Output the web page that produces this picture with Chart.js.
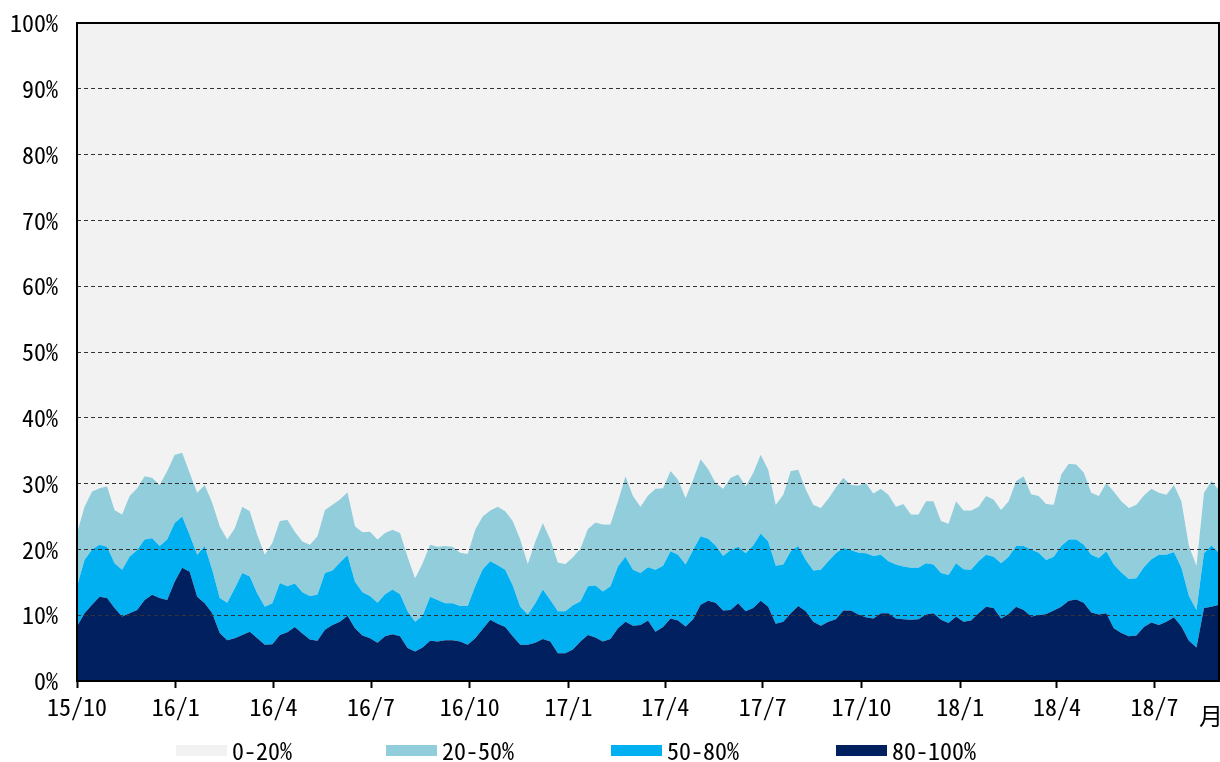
<!DOCTYPE html>
<html>
<head>
<meta charset="utf-8">
<script src="https://cdn.jsdelivr.net/npm/chart.js@4.4.1/dist/chart.umd.min.js"></script>
<style>
  html, body { margin: 0; padding: 0; background: #ffffff; }
  #wrap { width: 1220px; height: 762px; position: relative; }
</style>
</head>
<body>
<div id="wrap"><canvas id="c" width="1220" height="762"></canvas></div>
<script>
const FONT = '"Noto Sans Mono CJK JP", "Liberation Sans Narrow", "DejaVu Sans Condensed", sans-serif';
const FONT_SIZE = 24;

// Legend names and colours, listed top band first
const seriesNames = ['0-20%', '20-50%', '50-80%', '80-100%'];
const seriesColors = ['#f2f2f2', '#92cddc', '#00b0f0', '#002060'];

// Quarter ticks, as days counted from 2015/10/1
const tickDays = [0, 92, 183, 274, 366, 458, 548, 639, 731, 823, 913, 1004];
const tickLabels = ['15/10', '16/1', '16/4', '16/7', '16/10', '17/1', '17/4', '17/7', '17/10', '18/1', '18/4', '18/7'];
const axisUnit = '月';

// Weekly shares (%) of each band
const share80_100 = [
  8.3, 10.3, 11.6, 12.8, 12.6, 11.1, 9.8, 10.3, 10.8, 12.3,
  13.1, 12.6, 12.3, 15.1, 17.2, 16.6, 12.8, 11.8, 10.3, 7.3,
  6.2, 6.5, 7.0, 7.5, 6.5, 5.5, 5.6, 7.0, 7.4, 8.2,
  7.2, 6.3, 6.1, 7.8, 8.5, 9.0, 9.9, 8.0, 6.9, 6.5,
  5.8, 6.8, 7.1, 6.8, 5.0, 4.5, 5.1, 6.1, 6.0, 6.2,
  6.2, 6.0, 5.5, 6.5, 7.9, 9.3, 8.7, 8.2, 6.8, 5.5,
  5.5, 5.8, 6.4, 6.0, 4.2, 4.2, 4.8, 6.0, 7.0, 6.6,
  6.0, 6.4, 8.0, 9.0, 8.4, 8.5, 9.2, 7.5, 8.2, 9.5,
  9.2, 8.3, 9.4, 11.6, 12.2, 11.9, 10.7, 10.8, 11.8, 10.6,
  11.1, 12.2, 11.3, 8.7, 9.0, 10.3, 11.4, 10.6, 9.0, 8.4,
  9.0, 9.4, 10.7, 10.7, 10.1, 9.7, 9.5, 10.3, 10.3, 9.5,
  9.4, 9.3, 9.4, 10.1, 10.3, 9.3, 8.8, 9.8, 9.0, 9.2,
  10.3, 11.3, 11.1, 9.5, 10.2, 11.3, 10.8, 9.8, 10.0, 10.2,
  10.7, 11.3, 12.2, 12.4, 11.9, 10.4, 10.1, 10.3, 8.0, 7.3,
  6.8, 6.9, 8.2, 8.9, 8.5, 9.0, 9.7, 8.3, 6.1, 5.1,
  11.1, 11.3, 11.6
];
const share50_80 = [
  6.1, 8.1, 8.4, 7.9, 7.8, 6.8, 7.1, 8.6, 9.1, 9.2,
  8.6, 7.9, 9.2, 8.9, 7.8, 5.6, 6.4, 8.7, 6.6, 5.3,
  5.7, 7.6, 9.4, 8.4, 6.8, 5.8, 6.2, 7.9, 7.0, 6.6,
  6.3, 6.6, 7.0, 8.6, 8.3, 9.0, 9.2, 7.1, 6.6, 6.4,
  6.1, 6.4, 6.8, 6.4, 5.6, 4.5, 4.8, 6.7, 6.3, 5.6,
  5.6, 5.4, 5.9, 7.9, 9.1, 8.9, 8.9, 8.7, 7.7, 5.8,
  4.6, 6.0, 7.5, 6.3, 6.4, 6.4, 6.7, 6.1, 7.4, 7.9,
  7.6, 8.0, 9.4, 9.9, 8.5, 7.9, 8.1, 9.4, 9.3, 10.2,
  10.0, 9.4, 10.5, 10.4, 9.4, 8.7, 8.3, 9.1, 8.6, 8.8,
  9.5, 10.2, 9.9, 8.8, 8.7, 9.4, 9.1, 7.8, 7.8, 8.5,
  9.2, 10.0, 9.5, 9.2, 9.4, 9.7, 9.5, 8.9, 7.9, 8.2,
  8.0, 7.9, 7.8, 7.8, 7.4, 7.1, 7.3, 8.1, 8.0, 7.7,
  7.9, 7.9, 7.8, 8.4, 8.7, 9.2, 9.7, 10.2, 9.5, 8.2,
  8.2, 9.2, 9.3, 9.1, 8.8, 8.8, 8.6, 9.4, 9.7, 9.2,
  8.7, 8.7, 9.1, 9.6, 10.7, 10.2, 9.9, 8.9, 6.8, 5.7,
  8.3, 9.3, 7.9
];
const share20_50 = [
  8.1, 8.1, 8.8, 8.6, 9.2, 8.1, 8.4, 9.2, 9.4, 9.6,
  9.2, 9.3, 10.4, 10.4, 9.7, 9.4, 9.4, 9.3, 10.2, 10.9,
  9.6, 9.1, 10.1, 9.9, 8.9, 7.9, 9.2, 9.4, 10.1, 7.9,
  7.7, 7.8, 8.9, 9.6, 10.0, 9.6, 9.6, 8.4, 9.1, 9.8,
  9.6, 9.3, 9.1, 9.3, 8.3, 6.6, 8.0, 7.9, 8.1, 8.7,
  8.6, 8.1, 7.9, 8.6, 8.0, 7.7, 8.9, 8.9, 9.8, 10.2,
  7.7, 9.4, 10.1, 9.2, 7.4, 7.2, 7.3, 8.0, 8.7, 9.6,
  10.2, 9.4, 9.9, 12.2, 11.2, 10.1, 10.9, 12.3, 11.8, 12.2,
  11.4, 10.1, 10.7, 11.7, 10.6, 9.5, 10.2, 11.0, 11.0, 10.2,
  11.0, 12.0, 10.9, 9.3, 10.6, 12.2, 11.6, 10.7, 10.0, 9.4,
  9.5, 10.0, 10.7, 9.9, 10.2, 10.7, 9.5, 10.0, 10.1, 8.8,
  9.5, 8.1, 8.1, 9.4, 9.6, 7.9, 7.8, 9.4, 8.9, 9.0,
  8.3, 8.9, 8.7, 8.1, 8.4, 9.9, 10.6, 8.4, 8.6, 8.5,
  7.9, 10.9, 11.5, 11.4, 11.0, 9.4, 9.4, 10.4, 11.1, 10.8,
  10.8, 11.2, 10.9, 10.7, 9.4, 9.1, 10.2, 10.1, 7.6, 6.7,
  9.2, 9.8, 9.5
];
const share0_20 = [
  77.5, 73.5, 71.2, 70.7, 70.4, 74.0, 74.7, 71.9, 70.7, 68.9,
  69.1, 70.2, 68.1, 65.6, 65.3, 68.4, 71.4, 70.2, 72.9, 76.5,
  78.5, 76.8, 73.5, 74.2, 77.8, 80.8, 79.0, 75.7, 75.5, 77.3,
  78.8, 79.3, 78.0, 74.0, 73.2, 72.4, 71.3, 76.5, 77.4, 77.3,
  78.5, 77.5, 77.0, 77.5, 81.1, 84.4, 82.1, 79.3, 79.6, 79.5,
  79.6, 80.5, 80.7, 77.0, 75.0, 74.1, 73.5, 74.2, 75.7, 78.5,
  82.2, 78.8, 76.0, 78.5, 82.0, 82.2, 81.2, 79.9, 76.9, 75.9,
  76.2, 76.2, 72.7, 68.9, 71.9, 73.5, 71.8, 70.8, 70.7, 68.1,
  69.4, 72.2, 69.4, 66.3, 67.8, 69.9, 70.8, 69.1, 68.6, 70.4,
  68.4, 65.6, 67.9, 73.2, 71.7, 68.1, 67.9, 70.9, 73.2, 73.7,
  72.3, 70.6, 69.1, 70.2, 70.3, 69.9, 71.5, 70.8, 71.7, 73.5,
  73.1, 74.7, 74.7, 72.7, 72.7, 75.7, 76.1, 72.7, 74.1, 74.1,
  73.5, 71.9, 72.4, 74.0, 72.7, 69.6, 68.9, 71.6, 71.9, 73.1,
  73.2, 68.6, 67.0, 67.1, 68.3, 71.4, 71.9, 69.9, 71.2, 72.7,
  73.7, 73.2, 71.8, 70.8, 71.4, 71.7, 70.2, 72.7, 79.5, 82.5,
  71.4, 69.6, 71.0
];

// One observation per week, starting 2015/10/1
const obsDays = share80_100.map((_, i) => i * 7);
const toPoints = arr => arr.map((v, i) => ({ x: obsDays[i], y: v }));

// Stacked bottom-up: 80-100%, 50-80%, 20-50%, 0-20%
const bands = [
  { name: seriesNames[3], color: seriesColors[3], values: share80_100, fill: 'origin' },
  { name: seriesNames[2], color: seriesColors[2], values: share50_80, fill: '-1' },
  { name: seriesNames[1], color: seriesColors[1], values: share20_50, fill: '-1' },
  { name: seriesNames[0], color: seriesColors[0], values: share0_20, fill: '-1' }
];

const frameAndLegend = {
  id: 'frameAndLegend',
  afterDraw(chart) {
    const { ctx, chartArea: a } = chart;
    ctx.save();
    // plot frame
    ctx.strokeStyle = '#000';
    ctx.lineWidth = 2;
    ctx.strokeRect(a.left, a.top, a.right - a.left, a.bottom - a.top);

    // unit label at the right end of the time axis
    ctx.fillStyle = '#000';
    ctx.font = FONT_SIZE + 'px ' + FONT;
    ctx.textAlign = 'center';
    ctx.textBaseline = 'middle';
    ctx.fillText(axisUnit, 1211, 716);

    // legend row
    const boxLeft = [176, 386, 611, 836];
    ctx.textAlign = 'left';
    seriesNames.forEach((name, i) => {
      ctx.fillStyle = seriesColors[i];
      ctx.fillRect(boxLeft[i], 745, 51, 11);
      ctx.fillStyle = '#000';
      ctx.fillText(name, boxLeft[i] + 56, 751);
    });
    ctx.restore();
  }
};

new Chart(document.getElementById('c'), {
  type: 'line',
  data: {
    datasets: bands.map(b => ({
      label: b.name,
      data: toPoints(b.values),
      backgroundColor: b.color,
      borderColor: b.color,
      borderWidth: 0,
      fill: b.fill,
      pointRadius: 0,
      tension: 0
    }))
  },
  options: {
    responsive: false,
    animation: false,
    devicePixelRatio: 1,
    layout: { padding: { top: 23, right: 1, left: 0, bottom: 0 } },
    plugins: { legend: { display: false }, tooltip: { enabled: false } },
    scales: {
      x: {
        type: 'linear',
        min: 0,
        max: 1064,
        afterBuildTicks: s => { s.ticks = tickDays.map(v => ({ value: v })); },
        ticks: {
          callback: (v, i) => tickLabels[i],
          font: { family: FONT, size: FONT_SIZE },
          color: '#000',
          padding: 4,
          maxRotation: 0,
          autoSkip: false
        },
        grid: { drawOnChartArea: false, drawTicks: true, tickLength: 7, tickWidth: 2, tickColor: '#000' },
        border: { display: false },
        afterFit: s => { s.height = 81; s.paddingLeft = 0; s.paddingRight = 0; }
      },
      y: {
        stacked: true,
        min: 0,
        max: 100,
        ticks: {
          stepSize: 10,
          callback: v => v + '%',
          font: { family: FONT, size: FONT_SIZE },
          color: '#000',
          padding: 19
        },
        grid: {
          z: 1,
          drawTicks: false,
          lineWidth: 1,
          color: c => (c.tick && (c.tick.value === 0 || c.tick.value === 100)) ? 'rgba(0,0,0,0)' : '#333333'
        },
        border: { display: false, dash: [4, 3] },
        afterFit: s => { s.width = 77; s.paddingTop = 0; s.paddingBottom = 0; }
      }
    }
  },
  plugins: [frameAndLegend]
});
</script>
</body>
</html>
